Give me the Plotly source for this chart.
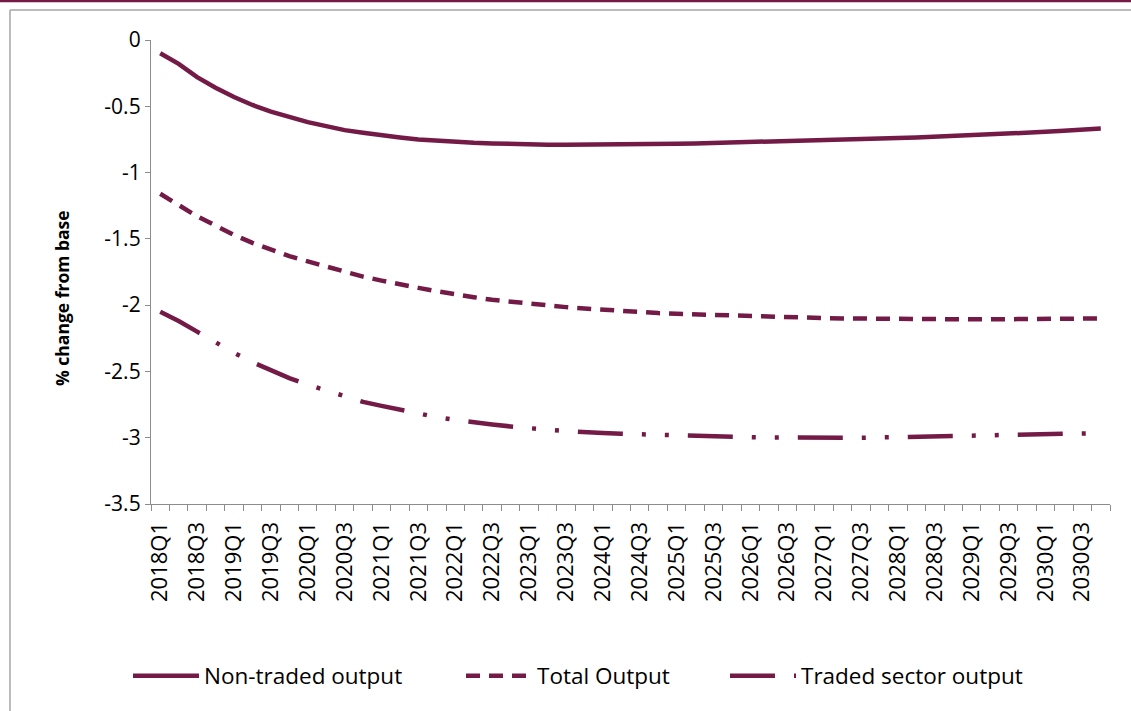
import plotly.graph_objects as go

# ---------------- data ----------------
quarters = [f"{y}Q{q}" for y in range(2018, 2031) for q in range(1, 5)]
tick_labels = [q if i % 2 == 0 else "" for i, q in enumerate(quarters)]

non_traded = [-0.10, -0.18, -0.28, -0.36, -0.43, -0.49, -0.54, -0.58, -0.62, -0.65,
              -0.68, -0.70, -0.72, -0.735, -0.75, -0.76, -0.77, -0.775, -0.78, -0.785,
              -0.79, -0.79, -0.79, -0.79, -0.79, -0.79, -0.788, -0.785, -0.783, -0.78,
              -0.777, -0.773, -0.77, -0.767, -0.763, -0.76, -0.757, -0.753, -0.75, -0.745,
              -0.74, -0.735, -0.73, -0.725, -0.72, -0.713, -0.707, -0.70, -0.693, -0.685,
              -0.677, -0.668]

total_output = [-1.16, -1.25, -1.33, -1.40, -1.47, -1.53, -1.58, -1.63, -1.67, -1.71,
                -1.75, -1.785, -1.815, -1.845, -1.87, -1.895, -1.92, -1.94, -1.96, -1.975,
                -1.99, -2.00, -2.015, -2.025, -2.035, -2.045, -2.05, -2.06, -2.065, -2.07,
                -2.075, -2.08, -2.085, -2.09, -2.093, -2.096, -2.098, -2.10, -2.102, -2.104,
                -2.105, -2.106, -2.107, -2.107, -2.107, -2.107, -2.106, -2.105, -2.104, -2.103,
                -2.102, -2.10]

traded = [-2.05, -2.12, -2.20, -2.28, -2.36, -2.43, -2.49, -2.55, -2.60, -2.645,
          -2.69, -2.73, -2.76, -2.79, -2.82, -2.845, -2.865, -2.885, -2.90, -2.915,
          -2.93, -2.94, -2.95, -2.96, -2.965, -2.97, -2.975, -2.98, -2.985, -2.99,
          -2.993, -2.995, -2.997, -2.998, -3.0, -3.0, -3.0, -3.0, -3.0, -2.998,
          -2.996, -2.994, -2.992, -2.99, -2.988, -2.985, -2.982, -2.98, -2.976, -2.972,
          -2.968, -2.965]

y_ticks = [0, -0.5, -1, -1.5, -2, -2.5, -3, -3.5]
y_tick_text = ["0", "-0.5", "-1", "-1.5", "-2", "-2.5", "-3", "-3.5"]

series_names = ["Non-traded output", "Total Output", "Traded sector output"]

# ---------------- style ----------------
MAROON = "#731B46"
GRAY = "#8C8C8C"
FONT = "Open Sans"
W, H = 1131, 711
L, R, T, B = 151, 21, 40, 207
pw, ph = W - L - R, H - T - B


def px_x(x):
    return (x - L) / pw


def px_y(y):
    return (H - B - y) / ph


fig = go.Figure()
fig.add_trace(go.Scatter(x=quarters, y=non_traded, mode="lines", name=series_names[0],
                         line=dict(color=MAROON, width=4.5), legend="legend"))
fig.add_trace(go.Scatter(x=quarters, y=total_output, mode="lines", name=series_names[1],
                         line=dict(color=MAROON, width=4.5, dash="14px,9px"), legend="legend2"))
fig.add_trace(go.Scatter(x=quarters, y=traded, mode="lines", name=series_names[2],
                         line=dict(color=MAROON, width=4.5,
                                   dash="45px,19px,4px,19px,4px,19px"), legend="legend3"))

legend_common = dict(orientation="h", yanchor="middle", y=px_y(676), xanchor="left",
                     font=dict(family=FONT, size=22.5, color="#000000"),
                     bgcolor="rgba(0,0,0,0)", itemwidth=66, visible=True)

fig.update_layout(
    width=W, height=H,
    margin=dict(l=L, r=R, t=T, b=B),
    showlegend=True,
    paper_bgcolor="white", plot_bgcolor="white",
    font=dict(family=FONT, color="#000000"),
    legend=dict(legend_common, x=px_x(128)),
    legend2=dict(legend_common, x=px_x(461)),
    legend3=dict(legend_common, x=px_x(725)),
    xaxis=dict(type="category", categoryorder="array", categoryarray=quarters,
               range=[-0.5, len(quarters) - 0.5],
               tickmode="array", tickvals=quarters, ticktext=tick_labels,
               tickson="boundaries", ticks="outside", ticklen=6, tickcolor=GRAY,
               tickwidth=1, tickangle=-90, showline=True, linecolor=GRAY, linewidth=1.3,
               showgrid=False, zeroline=False, ticklabelstandoff=8,
               tickfont=dict(family=FONT, size=22, color="#000000")),
    yaxis=dict(range=[-3.5, 0], tickmode="array", tickvals=y_ticks, ticktext=y_tick_text,
               ticks="outside", ticklen=5, tickcolor=GRAY, tickwidth=1,
               showline=True, linecolor=GRAY, linewidth=1.3,
               showgrid=False, zeroline=False,
               tickfont=dict(family=FONT, size=21, color="#000000")),
    annotations=[dict(text="<b>% change from base</b>", textangle=-90,
                      xref="paper", yref="paper", x=px_x(62), y=px_y(298),
                      xanchor="center", yanchor="middle", showarrow=False,
                      font=dict(family=FONT, size=17.5, color="#000000"))],
    shapes=[
        dict(type="line", xref="paper", yref="paper", x0=px_x(-5), x1=px_x(W + 5),
             y0=px_y(1), y1=px_y(1), line=dict(color=MAROON, width=2.5)),
        dict(type="line", xref="paper", yref="paper", x0=px_x(10), x1=px_x(W + 5),
             y0=px_y(10), y1=px_y(10), line=dict(color="#A6A6A6", width=1.5)),
        dict(type="line", xref="paper", yref="paper", x0=px_x(10), x1=px_x(10),
             y0=px_y(10), y1=px_y(H + 5), line=dict(color="#A6A6A6", width=1.5)),
    ],
)

fig.write_html("out.html",
               config={"displayModeBar": False},
               post_script="document.body.style.margin='0px';"
                           "document.body.style.overflow='hidden';")
